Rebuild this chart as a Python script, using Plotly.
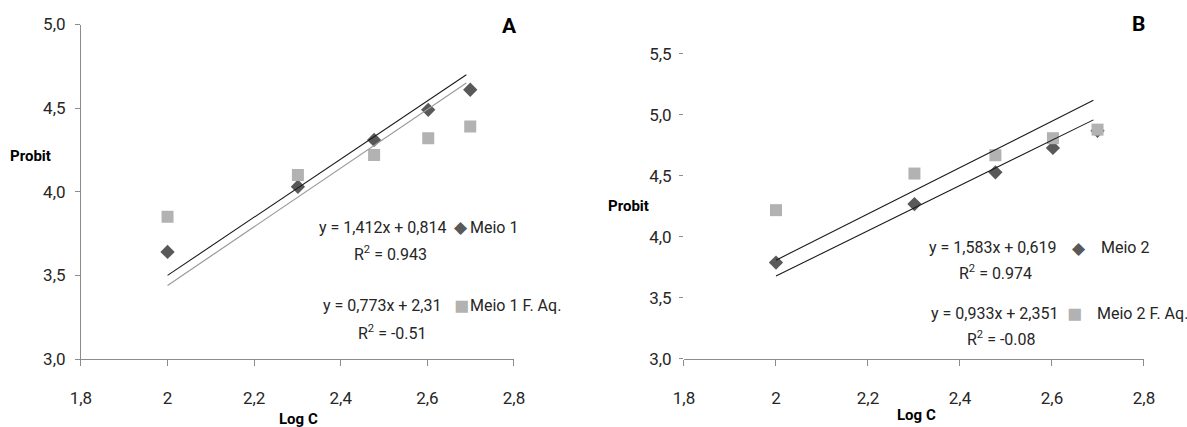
import plotly.graph_objects as go

# ---------------- data ----------------
log_c = [2.0, 2.301, 2.477, 2.602, 2.699]

# Panel A
meio1 = [3.64, 4.03, 4.31, 4.49, 4.61]
meio1_faq = [3.85, 4.10, 4.22, 4.32, 4.39]
trend_x = [2.0, 2.69]
trend_a_black = [3.50, 4.70]
trend_a_grey = [3.44, 4.65]

# Panel B
meio2 = [3.79, 4.27, 4.53, 4.73, 4.87]
meio2_faq = [4.22, 4.52, 4.67, 4.81, 4.88]
trend_b_upper = [3.81, 5.12]
trend_b_lower = [3.68, 4.96]

x_ticks = [1.8, 2.0, 2.2, 2.4, 2.6, 2.8]
x_ticktext = ["1,8", "2", "2,2", "2,4", "2,6", "2,8"]
ya_ticks = [3.0, 3.5, 4.0, 4.5, 5.0]
ya_ticktext = ["3,0", "3,5", "4,0", "4,5", "5,0"]
yb_ticks = [3.0, 3.5, 4.0, 4.5, 5.0, 5.5]
yb_ticktext = ["3,0", "3,5", "4,0", "4,5", "5,0", "5,5"]

eq_a1 = "y = 1,412x + 0,814"
r2_a1 = "R<sup>2</sup> = 0.943"
eq_a2 = "y = 0,773x + 2,31"
r2_a2 = "R<sup>2</sup> = -0.51"
eq_b1 = "y = 1,583x + 0,619"
r2_b1 = "R<sup>2</sup> = 0.974"
eq_b2 = "y = 0,933x + 2,351"
r2_b2 = "R<sup>2</sup> = -0.08"

# ---------------- style ----------------
FONT = "Roboto, Liberation Sans, Arial, sans-serif"
DARK = "#595959"
LIGHT = "#B2B2B2"
AXIS = "#8C8C8C"
TXT = "#262626"

fig = go.Figure()

# Panel A markers
fig.add_trace(go.Scatter(x=log_c, y=meio1, mode="markers", xaxis="x", yaxis="y",
                         marker=dict(symbol="diamond", size=11, color=DARK), name="Meio 1"))
fig.add_trace(go.Scatter(x=log_c, y=meio1_faq, mode="markers", xaxis="x", yaxis="y",
                         marker=dict(symbol="square", size=12, color=LIGHT), name="Meio 1 F. Aq."))
fig.add_trace(go.Scatter(x=trend_x, y=trend_a_black, mode="lines", xaxis="x", yaxis="y",
                         line=dict(color="#1a1a1a", width=1.1)))
fig.add_trace(go.Scatter(x=trend_x, y=trend_a_grey, mode="lines", xaxis="x", yaxis="y",
                         line=dict(color="#9a9a9a", width=1.2)))

# Panel B markers
fig.add_trace(go.Scatter(x=log_c, y=meio2, mode="markers", xaxis="x2", yaxis="y2",
                         marker=dict(symbol="diamond", size=11, color=DARK), name="Meio 2"))
fig.add_trace(go.Scatter(x=log_c, y=meio2_faq, mode="markers", xaxis="x2", yaxis="y2",
                         marker=dict(symbol="square", size=12, color=LIGHT), name="Meio 2 F. Aq."))
fig.add_trace(go.Scatter(x=trend_x, y=trend_b_upper, mode="lines", xaxis="x2", yaxis="y2",
                         line=dict(color="#1a1a1a", width=1.1)))
fig.add_trace(go.Scatter(x=trend_x, y=trend_b_lower, mode="lines", xaxis="x2", yaxis="y2",
                         line=dict(color="#1a1a1a", width=1.1)))

tickfont = dict(family=FONT, size=17, color=TXT)

xcommon = dict(range=[1.8, 2.8], tickvals=x_ticks, ticktext=x_ticktext, showgrid=False,
               zeroline=False, showline=True, linecolor=AXIS, linewidth=1, ticks="outside",
               ticklen=6, tickcolor=AXIS, tickfont=tickfont, ticklabelstandoff=18,
               automargin=False)

fig.update_layout(
    template="none",
    width=1187, height=427, margin=dict(l=0, r=0, t=0, b=0, autoexpand=False),
    paper_bgcolor="white", plot_bgcolor="white", showlegend=False,
    xaxis=dict(domain=[0.0682, 0.4330], anchor="y", **xcommon),
    yaxis=dict(domain=[0.15925, 0.94262], anchor="x", range=[3.0, 5.0], tickvals=ya_ticks,
               ticktext=ya_ticktext, showgrid=False, zeroline=False, showline=True,
               linecolor=AXIS, linewidth=1, ticks="outside", ticklen=5, tickcolor=AXIS,
               tickfont=tickfont, ticklabelstandoff=6, automargin=False),
    xaxis2=dict(domain=[0.57624, 0.96377], anchor="y2", **xcommon),
    yaxis2=dict(domain=[0.15925, 0.87354], anchor="x2", range=[3.0, 5.5], tickvals=yb_ticks,
                ticktext=yb_ticktext, showgrid=False, zeroline=False, showline=False,
                ticks="outside", ticklen=4, tickcolor=AXIS,
                tickfont=tickfont, ticklabelstandoff=4, automargin=False),
)

afont = dict(family=FONT, size=16, color=TXT)
bfont = dict(family=FONT, size=15, color="#000000")
ann = []

def add(text, x, y, xref, yref, xanchor="center", font=afont, color=None, size=None):
    f = dict(font)
    if color:
        f["color"] = color
    if size:
        f["size"] = size
    ann.append(dict(text=text, x=x, y=y, xref=xref, yref=yref, xanchor=xanchor,
                    yanchor="middle", showarrow=False, font=f))

# Panel A texts
add(eq_a1, 2.648, 3.789, "x", "y", "right")
add("◆", 2.678, 3.789, "x", "y", "center", color=DARK, size=17)
add("Meio 1", 2.694, 3.789, "x", "y", "left")
add(r2_a1, 2.516, 3.631, "x", "y")
add(eq_a2, 2.637, 3.317, "x", "y", "right")
add("■", 2.678, 3.317, "x", "y", "center", color=LIGHT, size=25)
add("Meio 1 F. Aq.", 2.694, 3.317, "x", "y", "left")
add(r2_a2, 2.519, 3.161, "x", "y")

# Panel B texts
add(eq_b1, 2.614, 3.910, "x2", "y2", "right")
add("◆", 2.659, 3.910, "x2", "y2", "center", color=DARK, size=17)
add("Meio 2", 2.703, 3.910, "x2", "y2", "left")
add(r2_b1, 2.478, 3.705, "x2", "y2")
add(eq_b2, 2.617, 3.377, "x2", "y2", "right")
add("■", 2.648, 3.377, "x2", "y2", "center", color=LIGHT, size=25)
add("Meio 2 F. Aq.", 2.693, 3.377, "x2", "y2", "left")
add(r2_b2, 2.491, 3.164, "x2", "y2")

# Titles / axis labels
add("<b>A</b>", 509.6 / 1187, (427 - 26) / 427, "paper", "paper",
    font=dict(family=FONT, size=21, color="#000000"))
add("<b>B</b>", 1138 / 1187, (427 - 24) / 427, "paper", "paper",
    font=dict(family=FONT, size=21, color="#000000"))
add("<b>Probit</b>", 31 / 1187, (427 - 156) / 427, "paper", "paper", font=bfont)
add("<b>Probit</b>", 628.5 / 1187, (427 - 206) / 427, "paper", "paper", font=bfont)
add("<b>Log C</b>", 299 / 1187, (427 - 419) / 427, "paper", "paper", font=bfont)
add("<b>Log C</b>", 916 / 1187, (427 - 415) / 427, "paper", "paper", font=bfont)

fig.update_layout(annotations=ann)
fig.write_html("out.html")
